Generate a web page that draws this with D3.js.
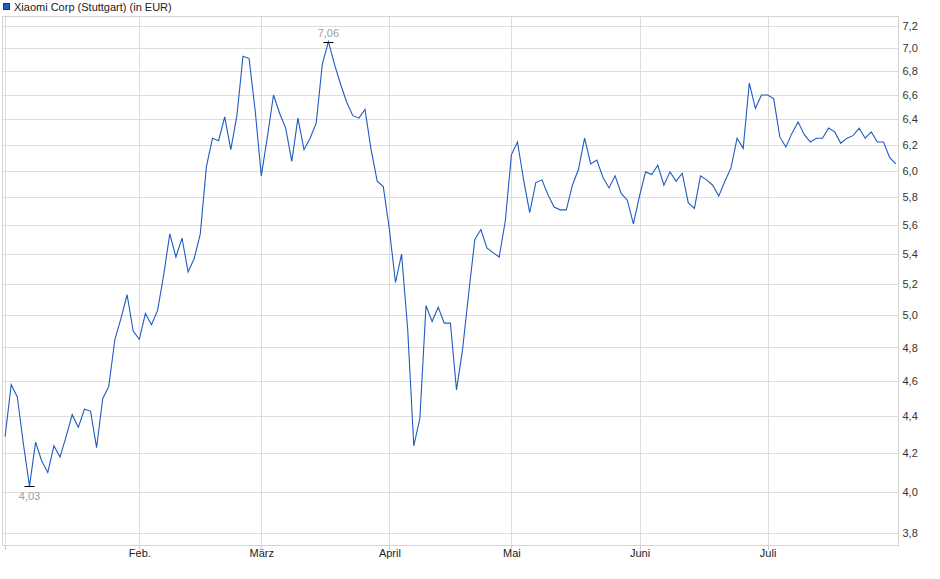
<!DOCTYPE html>
<html>
<head>
<meta charset="utf-8">
<script src="https://cdn.jsdelivr.net/npm/d3@7"></script>
<style>
  body { margin: 0; background: #fff; }
  svg { display: block; font-family: "Liberation Sans", Arial, sans-serif; }
</style>
</head>
<body>
<svg id="chart"></svg>
<script>
// Schlusskurse je Handelstag (Börse Stuttgart, EUR), Monat für Monat
const janValues = [4.29, 4.58, 4.51, 4.25, 4.03, 4.26, 4.16, 4.10, 4.24, 4.18, 4.29,
  4.41, 4.34, 4.44, 4.43, 4.23, 4.50, 4.57, 4.85, 4.98, 5.13, 4.90];
const febValues = [4.85, 5.01, 4.94, 5.03, 5.26, 5.54, 5.38, 5.51, 5.28, 5.37,
  5.54, 6.03, 6.25, 6.23, 6.42, 6.16, 6.43, 6.93, 6.91, 6.47];
const marValues = [5.96, 6.26, 6.60, 6.45, 6.33, 6.07, 6.41, 6.16, 6.25, 6.37, 6.86,
  7.06, 6.86, 6.69, 6.54, 6.43, 6.41, 6.48, 6.16, 5.92, 5.88];
const aprValues = [5.57, 5.21, 5.40, 4.91, 4.24, 4.39, 5.06, 4.96, 5.05, 4.95,
  4.95, 4.55, 4.79, 5.14, 5.50, 5.57, 5.44, 5.41, 5.38, 5.63];
const mayValues = [6.12, 6.22, 5.93, 5.69, 5.91, 5.93, 5.82, 5.73, 5.71, 5.71, 5.89,
  6.01, 6.25, 6.05, 6.08, 5.95, 5.87, 5.96, 5.83, 5.78, 5.61];
const junValues = [5.81, 5.99, 5.97, 6.04, 5.89, 5.99, 5.92, 5.98, 5.76, 5.72, 5.96,
  5.93, 5.89, 5.81, 5.92, 6.02, 6.25, 6.17, 6.70, 6.49, 6.60];
const julValues = [6.60, 6.57, 6.26, 6.18, 6.29, 6.38, 6.28, 6.22, 6.25, 6.25, 6.33,
  6.30, 6.21, 6.25, 6.27, 6.33, 6.25, 6.30, 6.22, 6.22, 6.10, 6.05];

const monthSeries = [janValues, febValues, marValues, aprValues, mayValues, junValues, julValues];
const monthLabels = ["", "Feb.", "März", "April", "Mai", "Juni", "Juli"];
const yTicks = [3.8, 4.0, 4.2, 4.4, 4.6, 4.8, 5.0, 5.2, 5.4, 5.6, 5.8, 6.0, 6.2, 6.4, 6.6, 6.8, 7.0, 7.2];
const seriesName = "Xiaomi Corp (Stuttgart) (in EUR)";

// Tagesreihe + Index des ersten Handelstags jedes Monats
const values = [];
const monthStarts = [];
monthSeries.forEach(m => { monthStarts.push(values.length); values.push(...m); });
const data = values.map((v, i) => ({ i: i, v: v }));

const width = 940, height = 579;
const plot = { left: 2.5, right: 898.5, top: 16.5, bottom: 545.5 };

const svg = d3.select("#chart").attr("width", width).attr("height", height);

const x = d3.scaleLinear().domain([0, values.length - 1]).range([5.1, 895.7]);
const y = d3.scaleLog().domain([3.8, 7.2]).range([532.7, 26]);

const fmt = v => d3.format(".1f")(v).replace(".", ",");
const fmt2 = v => d3.format(".2f")(v).replace(".", ",");

// horizontale Gitterlinien + rechte Achse
const yAxis = d3.axisRight(y)
  .tickValues(yTicks)
  .tickFormat(fmt)
  .tickSize(plot.right - plot.left)
  .tickPadding(4);

const yg = svg.append("g")
  .attr("transform", `translate(${plot.left},0)`)
  .call(yAxis);
yg.select(".domain").remove();
yg.selectAll(".tick line").attr("stroke", "#dddddd").attr("shape-rendering", "crispEdges");
yg.selectAll(".tick text").attr("fill", "#333").attr("font-size", 11)
  .attr("font-family", "Liberation Sans, Arial, sans-serif");

// vertikale Gitterlinien an den Monatsanfängen
const xAxis = d3.axisBottom(x)
  .tickValues(monthStarts)
  .tickFormat((d, k) => monthLabels[k])
  .tickSize(-(plot.bottom - plot.top))
  .tickPadding(4);

const xg = svg.append("g")
  .attr("transform", `translate(0,${plot.bottom})`)
  .call(xAxis);
xg.select(".domain").remove();
xg.selectAll(".tick line").attr("stroke", "#dddddd").attr("shape-rendering", "crispEdges");
xg.selectAll(".tick text").attr("fill", "#222").attr("font-size", 11)
  .attr("font-family", "Liberation Sans, Arial, sans-serif");

// kleine Striche unter der x-Achse
xg.selectAll(".tick").append("line")
  .attr("y1", 0).attr("y2", 4)
  .attr("stroke", "#cccccc").attr("shape-rendering", "crispEdges");

// Rahmen
svg.append("rect")
  .attr("x", plot.left).attr("y", plot.top)
  .attr("width", plot.right - plot.left).attr("height", plot.bottom - plot.top)
  .attr("fill", "none").attr("stroke", "#d4d4d4").attr("shape-rendering", "crispEdges");

// Kurslinie
const line = d3.line().x(d => x(d.i)).y(d => y(d.v));
svg.append("path")
  .datum(data)
  .attr("fill", "none")
  .attr("stroke", "#1f5bc0")
  .attr("stroke-width", 1.1)
  .attr("d", line);

// Tief / Hoch markieren
const minD = data.reduce((a, b) => (b.v < a.v ? b : a));
const maxD = data.reduce((a, b) => (b.v > a.v ? b : a));

[[minD, 14], [maxD, -5]].forEach(([d, dy]) => {
  svg.append("line")
    .attr("x1", x(d.i) - 5).attr("x2", x(d.i) + 5)
    .attr("y1", Math.round(y(d.v)) + 0.5).attr("y2", Math.round(y(d.v)) + 0.5)
    .attr("stroke", "#000");
  svg.append("text")
    .attr("x", x(d.i)).attr("y", y(d.v) + dy)
    .attr("text-anchor", "middle")
    .attr("font-size", 11)
    .attr("fill", "#a0a0a0")
    .text(fmt2(d.v));
});

// Legende
svg.append("rect")
  .attr("x", 3.5).attr("y", 3.5).attr("width", 6).attr("height", 6)
  .attr("fill", "#1f5bc0").attr("stroke", "#123a80");
svg.append("text")
  .attr("x", 14).attr("y", 11)
  .attr("font-size", 11)
  .attr("fill", "#222")
  .text(seriesName);
</script>
</body>
</html>
